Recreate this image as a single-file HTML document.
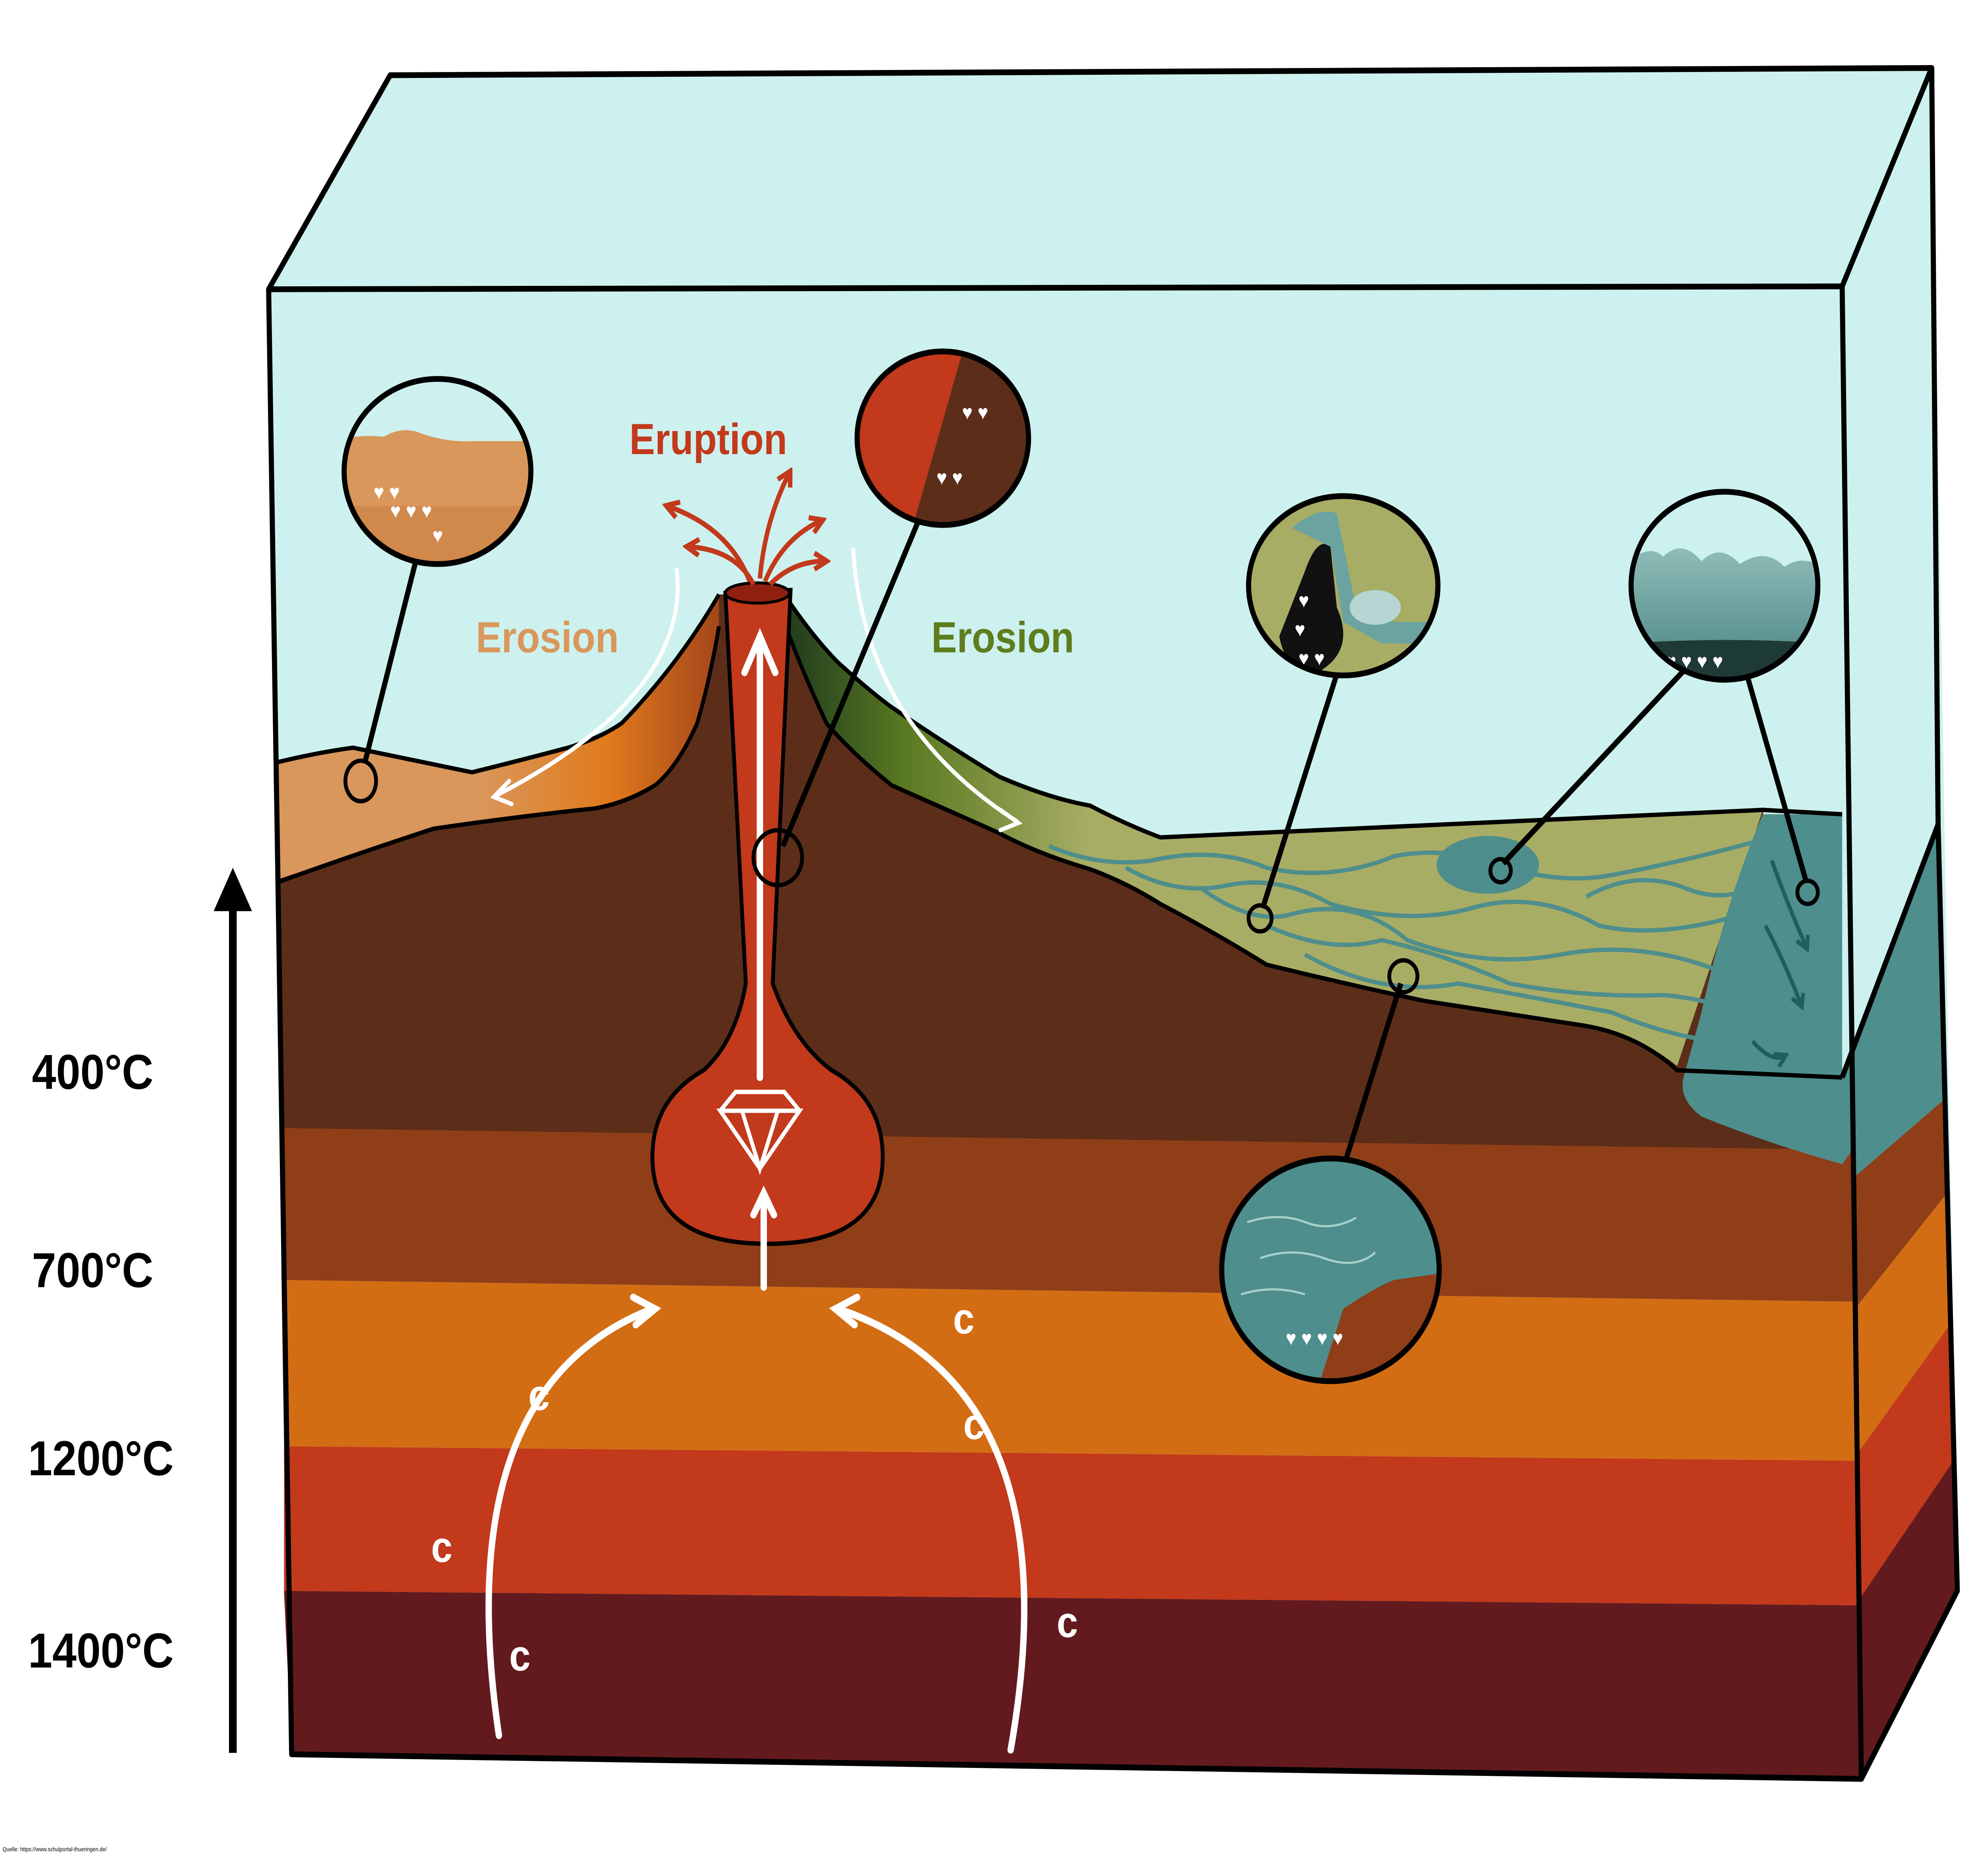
<!DOCTYPE html>
<html><head><meta charset="utf-8"><style>html,body{margin:0;padding:0;background:#fff;overflow:hidden;width:100%;height:100%}svg{display:block;position:absolute;left:0;top:0;width:100vw;height:100vh}</style></head><body>
<svg viewBox="0 0 1554 1284" preserveAspectRatio="none" xmlns="http://www.w3.org/2000/svg" font-family="Liberation Sans, sans-serif">
<defs>
<linearGradient id="gl" x1="0" x2="1"><stop offset="0" stop-color="#d9975c"/><stop offset="0.45" stop-color="#d9975c"/><stop offset="0.75" stop-color="#e07a1c"/><stop offset="1" stop-color="#a4461a"/></linearGradient>
<linearGradient id="gr" x1="0" x2="1"><stop offset="0" stop-color="#1f3a1e"/><stop offset="0.4" stop-color="#5a7a22"/><stop offset="1" stop-color="#a8ad65"/></linearGradient>
<linearGradient id="gs" x1="0" y1="0" x2="0" y2="1"><stop offset="0" stop-color="#8fbcb8"/><stop offset="1" stop-color="#3f7c7a"/></linearGradient>
<marker id="ar" viewBox="0 0 10 10" refX="7" refY="5" markerWidth="4" markerHeight="4" orient="auto"><path d="M1,1 L8,5 L1,9" fill="none" stroke="#c2391b" stroke-width="2.5"/></marker>
<marker id="at" viewBox="0 0 10 10" refX="7" refY="5" markerWidth="4" markerHeight="4" orient="auto"><path d="M1,1 L8,5 L1,9" fill="none" stroke="#1f5f5c" stroke-width="2.5"/></marker>
<clipPath id="c1"><ellipse cx="342" cy="326" rx="73" ry="64"/></clipPath>
<clipPath id="c2"><ellipse cx="737" cy="303" rx="67" ry="60"/></clipPath>
<clipPath id="c3"><ellipse cx="1050" cy="405" rx="74" ry="62"/></clipPath>
<clipPath id="c4"><ellipse cx="1348" cy="405" rx="73" ry="65"/></clipPath>
<clipPath id="c5"><ellipse cx="1040" cy="878" rx="85" ry="77"/></clipPath>
</defs>
<rect width="1554" height="1284" fill="#fff"/>
<polygon points="305,52 1510,47 1530,1100 1455,1230 228,1213 210,200" fill="#cdf1ee"/>
<!-- side face -->
<polygon points="1440,745 1515,570 1520,760 1448,815" fill="#4e8e8c"/>
<polygon points="1448,815 1520,760 1522,825 1450,905" fill="#8f3e18"/>
<polygon points="1450,905 1522,825 1525,915 1452,1005" fill="#d36d14"/>
<polygon points="1452,1005 1525,915 1527,1010 1454,1105" fill="#c2391b"/>
<polygon points="1454,1105 1527,1010 1530,1100 1455,1230" fill="#621a1e"/>
<!-- front layers -->
<polygon points="222,1100 1454,1110 1455,1230 228,1213" fill="#621a1e"/>
<polygon points="222,1000 1452,1010 1454,1110 222,1100" fill="#c2391b"/>
<polygon points="220,885 1450,900 1452,1010 222,1000" fill="#d36d14"/>
<polygon points="220,780 1448,790 1450,900 220,885" fill="#8f3e18"/>
<!-- brown ground -->
<path d="M217,527 Q250,520 276,517 Q320,525 369,534 Q410,525 444,517 Q470,510 486,500 Q530,460 562,411 L613,411 Q635,440 655,458 Q680,478 697,489 Q740,515 781,537 Q820,552 852,557 Q880,570 907,579 L1378,560 L1400,760 L1448,795 L220,780 Z" fill="#5c2e19"/>
<!-- tan -->
<path d="M217,527 Q250,520 276,517 Q320,525 369,534 Q410,525 444,517 Q470,510 486,500 Q530,460 562,411 L562,433 Q555,470 545,500 Q530,530 512,543 Q490,555 465,559 Q400,565 339,573 Q280,590 217,608 Z" fill="url(#gl)"/>
<!-- green slope -->
<path d="M613,411 Q635,440 655,458 Q680,478 697,489 Q740,515 781,537 Q820,552 852,557 Q880,570 907,579 L1378,560 L1311,737 Q1280,715 1237,709 Q1170,700 1113,692 Q1050,680 990,667 Q950,645 907,625 Q880,610 852,601 Q810,590 781,576 Q740,560 697,543 Q665,520 646,500 Q625,460 613,430 Z" fill="#a8ad65"/>
<path d="M613,411 Q635,440 655,458 Q680,478 697,489 Q740,515 781,537 Q820,552 852,557 L852,601 Q810,590 781,576 Q740,560 697,543 Q665,520 646,500 Q625,460 613,430 Z" fill="url(#gr)"/>
<!-- sea -->
<path d="M1378,563 L1440,563 L1440,745 L1448,795 L1440,805 Q1380,790 1330,772 Q1312,760 1316,745 L1330,700 Q1350,620 1378,563 Z" fill="#4e8e8c"/>
<!-- rivers -->
<g stroke="#4e8e8c" stroke-width="3" fill="none">
<path d="M820,585 Q860,600 900,595 Q950,585 990,600 Q1040,610 1090,592 Q1130,585 1170,598 Q1220,612 1260,605 Q1320,595 1380,580"/>
<path d="M880,600 Q920,620 960,612 Q1000,605 1040,625 Q1100,640 1150,628 Q1200,615 1250,640 Q1300,650 1370,630"/>
<path d="M940,615 Q980,640 1010,632 Q1060,620 1100,650 Q1160,670 1220,660 Q1280,650 1340,670"/>
<path d="M990,640 Q1040,660 1080,650 Q1130,660 1180,680 Q1240,690 1300,688 Q1330,690 1360,700"/>
<path d="M1020,660 Q1080,690 1140,680 Q1200,690 1260,700 Q1300,715 1340,720"/>
<path d="M1240,620 Q1280,600 1320,615 Q1350,625 1380,610"/>
</g>
<g stroke="#1f5f5c" stroke-width="3" fill="none" marker-end="url(#at)">
<path d="M1385,595 Q1395,620 1412,655"/><path d="M1380,640 Q1395,665 1408,695"/><path d="M1370,720 Q1385,735 1395,730"/>
</g>
<ellipse cx="1163" cy="598" rx="40" ry="20" fill="#4e8e8c"/>
<!-- outlines -->
<path d="M217,527 Q250,520 276,517 Q320,525 369,534 Q410,525 444,517 Q470,510 486,500 Q530,460 562,411 M613,411 Q635,440 655,458 Q680,478 697,489 Q740,515 781,537 Q820,552 852,557 Q880,570 907,579 L1378,560 L1440,563" stroke="#000" stroke-width="3" fill="none"/>
<path d="M217,610 Q280,590 339,573 Q400,565 465,559 Q490,555 512,543 Q530,530 545,500 Q555,470 562,433" stroke="#000" stroke-width="3" fill="none"/>
<path d="M613,430 Q625,460 646,500 Q665,520 697,543 Q740,560 781,576 Q810,590 852,601 Q880,610 907,625 Q950,645 990,667 Q1050,680 1113,692 Q1170,700 1237,709 Q1280,715 1311,740 L1440,745" stroke="#000" stroke-width="3" fill="none"/>
<!-- magma -->
<path d="M567,410 L618,408 L604,680 Q620,720 650,740 Q690,760 690,800 Q690,860 600,860 Q510,860 510,800 Q510,760 550,740 Q575,720 583,680 Z" fill="#c2391b" stroke="#000" stroke-width="3"/>
<ellipse cx="592" cy="410" rx="25" ry="7" fill="#8f2010" stroke="#000" stroke-width="2"/>
<g stroke="#fff" stroke-width="5" fill="none" stroke-linecap="round">
<path d="M594,745 L594,445"/><path d="M582,465 L594,440 L606,465"/>
<path d="M597,890 L597,830"/><path d="M589,840 L597,825 L605,840"/>
<path d="M390,1200 Q350,960 510,905"/><path d="M495,897 L512,905 L497,916"/>
<path d="M790,1210 Q840,960 655,905"/><path d="M670,897 L653,905 L668,916"/>
<path d="M529,394 Q540,480 388,550" stroke-width="3"/><path d="M398,540 L386,551 L400,556" stroke-width="3"/>
<path d="M667,380 Q675,500 795,568" stroke-width="3"/><path d="M782,560 L796,569 L782,574" stroke-width="3"/>
</g>
<g stroke="#fff" stroke-width="3" fill="none">
<path d="M563,768 L625,768 L594,808 Z M563,768 L575,755 L613,755 L625,768 M580,768 L594,808 L608,768"/>
</g>
<g fill="#fff" font-size="30" font-weight="bold"><text x="413" y="975">c</text><text x="337" y="1080">c</text><text x="398" y="1155">c</text><text x="745" y="922">c</text><text x="753" y="995">c</text><text x="826" y="1132">c</text></g>
<g stroke="#c2391b" stroke-width="3.5" fill="none" marker-end="url(#ar)">
<path d="M586,402 Q570,365 522,350"/><path d="M589,404 Q575,380 538,378"/><path d="M594,400 Q598,360 617,327"/><path d="M598,402 Q612,372 642,360"/><path d="M602,404 Q620,388 645,388"/>
</g>
<!-- box outlines -->
<g stroke="#000" stroke-width="4" fill="none" stroke-linejoin="round">
<polygon points="210,200 1440,198 1455,1230 228,1213"/>
<path d="M210,200 L305,52 L1510,47 L1440,198 M1510,47 L1515,570 L1530,1100 L1455,1230"/>
<path d="M1440,745 L1515,570"/>
</g>
<!-- connectors -->
<g stroke="#000" stroke-width="4">
<line x1="325" y1="388" x2="285" y2="528"/>
<line x1="718" y1="360" x2="612" y2="585"/>
<line x1="1045" y1="466" x2="987" y2="628"/>
<line x1="1318" y1="462" x2="1175" y2="597"/>
<line x1="1366" y1="468" x2="1412" y2="610"/>
<line x1="1052" y1="802" x2="1095" y2="680"/>
</g>
<g stroke="#000" stroke-width="3" fill="none"><ellipse cx="282" cy="540" rx="12" ry="14"/><circle cx="608" cy="593" r="19"/><circle cx="985" cy="635" r="9"/><circle cx="1173" cy="602" r="8"/><circle cx="1413" cy="617" r="8"/><circle cx="1097" cy="675" r="11"/></g>
<!-- bubble contents -->
<g clip-path="url(#c1)"><rect x="260" y="250" width="170" height="150" fill="#cdf1ee"/><path d="M260,305 Q280,300 300,302 Q315,294 330,300 Q350,306 370,305 L430,305 L430,400 L260,400 Z" fill="#d9975c"/><path d="M260,350 L430,350 L430,400 L260,400 Z" fill="#c97a3a" opacity="0.5"/></g>
<g clip-path="url(#c2)"><rect x="660" y="235" width="160" height="140" fill="#5c2e19"/><path d="M660,235 L755,235 L710,375 L660,375 Z" fill="#c2391b"/></g>
<g clip-path="url(#c3)"><rect x="970" y="335" width="160" height="140" fill="#a8ad65"/><path d="M1020,395 Q1030,370 1040,378 L1045,420 Q1060,450 1030,465 Q1005,465 1000,440 Z" fill="#111"/><path d="M1010,365 Q1030,350 1045,355 L1060,420 L1090,430 L1130,430 L1130,445 L1080,445 L1050,430 L1040,378 Z" fill="#6aa3a0"/><ellipse cx="1075" cy="420" rx="20" ry="12" fill="#b7d6d3"/></g>
<g clip-path="url(#c4)"><rect x="1270" y="335" width="160" height="140" fill="#cdf1ee"/><path d="M1270,390 Q1290,375 1300,385 Q1315,372 1330,388 Q1345,375 1360,390 Q1380,378 1395,392 Q1410,382 1430,395 L1430,480 L1270,480 Z" fill="url(#gs)"/><path d="M1270,445 Q1350,440 1430,445 L1430,480 L1270,480 Z" fill="#1e3a36"/></g>
<g clip-path="url(#c5)"><rect x="950" y="795" width="180" height="170" fill="#4e8e8c"/><path d="M1030,960 L1050,905 Q1075,890 1090,885 L1130,880 L1130,965 Z" fill="#8f3e18"/><g stroke="#a8d0cc" stroke-width="1.5" fill="none"><path d="M975,845 Q1000,838 1020,845 T1060,842"/><path d="M985,870 Q1010,862 1035,870 T1075,866"/><path d="M970,895 Q995,888 1020,895"/></g></g>
<g fill="#fff" font-size="14"><text x="292" y="345">♥       ♥</text><text x="305" y="358">♥ ♥  ♥</text><text x="338" y="375">♥</text><text x="752" y="290">♥ ♥</text><text x="732" y="335">♥ ♥</text><text x="1015" y="420">♥</text><text x="1012" y="440">♥</text><text x="1015" y="460">♥ ♥</text><text x="1302" y="462">♥  ♥  ♥ ♥</text><text x="1005" y="930">♥ ♥ ♥ ♥</text></g>
<g stroke="#000" stroke-width="4" fill="none"><ellipse cx="342" cy="326" rx="73" ry="64"/><ellipse cx="737" cy="303" rx="67" ry="60"/><ellipse cx="1050" cy="405" rx="74" ry="62"/><ellipse cx="1348" cy="405" rx="73" ry="65"/><ellipse cx="1040" cy="878" rx="85" ry="77"/></g>
<!-- labels -->
<text x="492" y="314" font-size="30" fill="#c2391b" font-weight="bold">Eruption</text>
<text x="372" y="451" font-size="30" fill="#d9975c" font-weight="bold">Erosion</text>
<text x="728" y="451" font-size="30" fill="#5e7d1e" font-weight="bold">Erosion</text>
<line x1="182" y1="1212" x2="182" y2="625" stroke="#000" stroke-width="6"/>
<polygon points="167,630 182,600 197,630" fill="#000"/>
<g font-size="34" font-weight="bold" fill="#000"><text x="25" y="753">400°C</text><text x="25" y="890">700°C</text><text x="22" y="1020">1200°C</text><text x="22" y="1153">1400°C</text></g>
<text x="2" y="1280" font-size="4" fill="#000">Quelle: https://www.schulportal-thueringen.de/</text>
</svg>
</body></html>
